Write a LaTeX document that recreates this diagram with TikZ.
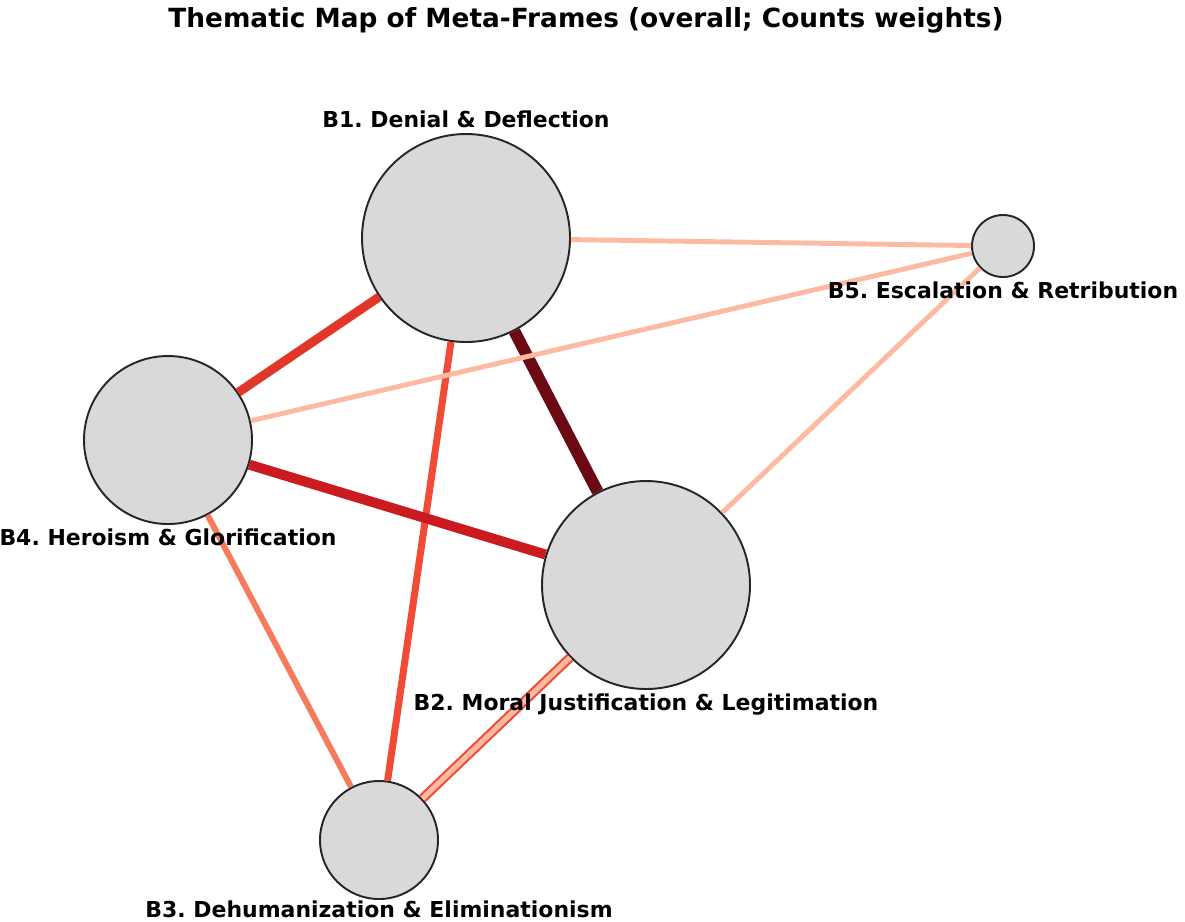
\documentclass[tikz,border=0pt]{standalone}
\usepackage{fontspec}
\setmainfont{DejaVu Sans}
\usepackage{xcolor}
\usetikzlibrary{positioning}
\frenchspacing

\definecolor{rdA}{HTML}{6B0A14}
\definecolor{rdB}{HTML}{CB1A20}
\definecolor{rdC}{HTML}{E2362B}
\definecolor{rdD}{HTML}{F14A37}
\definecolor{rdE}{HTML}{F67A5C}
\definecolor{rdF}{HTML}{FCBBA1}
\definecolor{nodefill}{HTML}{D9D9D9}

\begin{document}
\begin{tikzpicture}[x=0.02cm, y=-0.02cm,
    frame/.style={circle, draw=black!85, line width=1.1pt, fill=nodefill, inner sep=0pt},
    tag/.style={font=\bfseries\fontsize{12.5}{14}\selectfont, inner sep=0pt},
    link/.style={line width=#1}]
    \useasboundingbox (0, 0) rectangle (1185, 921);

    \node[font=\bfseries\fontsize{15}{17}\selectfont] (title) at (586, 20) {Thematic Map of Meta-Frames (overall; Counts weights)};

    \node[frame, minimum size=208*0.02cm] (b1) at (466, 238) {};
    \node[frame, minimum size=208*0.02cm] (b2) at (646, 585) {};
    \node[frame, minimum size=118*0.02cm] (b3) at (379, 840) {};
    \node[frame, minimum size=168*0.02cm] (b4) at (168, 440) {};
    \node[frame, minimum size=62*0.02cm] (b5) at (1003, 246) {};

    \draw
    (b1) edge[link=6.8pt, draw=rdA] (b2)
    (b1) edge[link=4pt, draw=rdD] (b3)
    (b1) edge[link=5.1pt, draw=rdC] (b4)
    (b1) edge[link=2.8pt, draw=rdF] (b5)
    (b2) edge[link=1.2pt, draw=rdD, double=rdF, double distance=3pt] (b3)
    (b2) edge[link=5.7pt, draw=rdB] (b4)
    (b2) edge[link=2.8pt, draw=rdF] (b5)
    (b3) edge[link=3.4pt, draw=rdE] (b4)
    (b4) edge[link=2.8pt, draw=rdF] (b5);

    \node[tag, above=3pt of b1] (b1tag) {B1. Denial \& Deflection};
    \node[tag, below=2pt of b2] (b2tag) {B2. Moral Justification \& Legitimation};
    \node[tag, below=0.5pt of b3] (b3tag) {B3. Dehumanization \& Eliminationism};
    \node[tag, below=2pt of b4] (b4tag) {B4. Heroism \& Glorification};
    \node[tag, below=2pt of b5] (b5tag) {B5. Escalation \& Retribution};
\end{tikzpicture}
\end{document}
